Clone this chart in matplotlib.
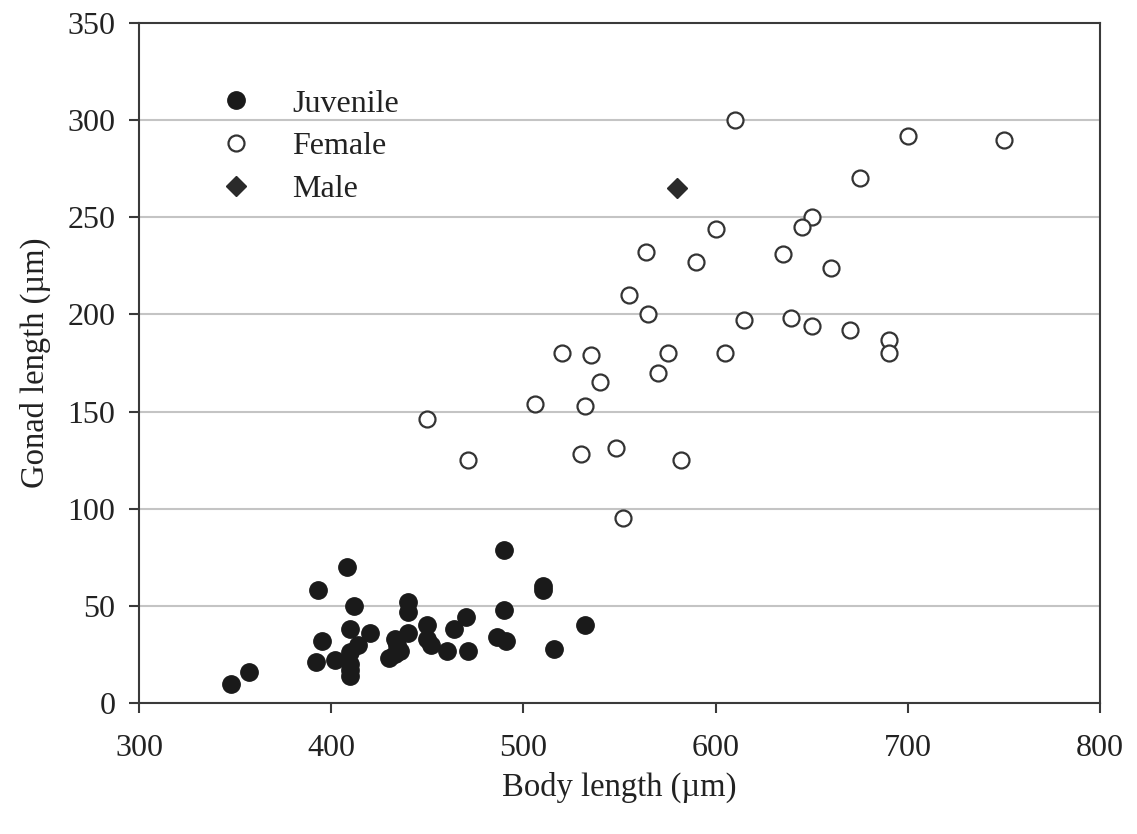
import matplotlib.pyplot as plt
from matplotlib.lines import Line2D

plt.rcParams['font.family'] = ['Liberation Serif', 'DejaVu Serif']

# Juvenile: body length / gonad length (µm)
juv_body = [348, 357, 393, 408, 395, 392, 402, 412, 410, 410, 410, 410, 410, 414,
            420, 440, 440, 433, 440, 430, 433, 436, 434, 450, 450, 452, 460, 464,
            470, 471, 486, 491, 490, 490, 510, 510, 516, 532]
juv_gonad = [10, 16, 58, 70, 32, 21, 22, 50, 38, 14, 17, 20, 26, 30,
             36, 52, 47, 33, 36, 23, 25, 27, 30, 40, 33, 30, 27, 38,
             44, 27, 34, 32, 48, 79, 60, 58, 28, 40]

# Female
fem_body = [610, 600, 564, 590, 635, 555, 565, 615, 639, 520, 535, 575, 605, 570,
            540, 506, 532, 450, 471, 530, 548, 582, 552, 700, 750, 675, 650, 645,
            660, 650, 670, 690, 690]
fem_gonad = [300, 244, 232, 227, 231, 210, 200, 197, 198, 180, 179, 180, 180, 170,
             165, 154, 153, 146, 125, 128, 131, 125, 95, 292, 290, 270, 250, 245,
             224, 194, 192, 187, 180]

# Male
male_body = [580]
male_gonad = [265]

fig = plt.figure(figsize=(11.37, 8.34), dpi=100)
ax = fig.add_axes([0.1223, 0.1571, 0.8452, 0.8153])

ax.plot(juv_body, juv_gonad, 'o', ms=12.5, color='#1a1a1a', mec='#1a1a1a', zorder=3)
ax.plot(fem_body, fem_gonad, 'o', ms=11.5, mfc='white', mec='#333333', mew=1.6, zorder=3)
ax.plot(male_body, male_gonad, 'D', ms=10, color='#2a2a2a', zorder=3)

ax.set_xlim(300, 800)
ax.set_ylim(0, 350)
ax.set_xticks(range(300, 801, 100))
ax.set_yticks(range(0, 351, 50))

ax.set_axisbelow(True)
ax.yaxis.grid(True, color='#c4c4c4', linewidth=1.5)
for gl in ax.yaxis.get_gridlines()[-1:]:
    gl.set_visible(False)

for s in ax.spines.values():
    s.set_color('#3a3a3a')
    s.set_linewidth(1.5)

ax.tick_params(axis='both', direction='out', length=7, width=1.5, color='#3a3a3a',
               labelsize=23, labelcolor='#222222')
ax.tick_params(axis='y', pad=10)
ax.tick_params(axis='x', pad=15)

ax.set_xlabel('Body length (µm)', fontsize=23.5, color='#222222', labelpad=7)
ax.set_ylabel('Gonad length (µm)', fontsize=23.5, color='#222222', labelpad=12)

handles = [
    Line2D([], [], ls='none', marker='o', ms=12.5, color='#1a1a1a', label='Juvenile'),
    Line2D([], [], ls='none', marker='o', ms=11.5, mfc='white', mec='#333333', mew=1.6, label='Female'),
    Line2D([], [], ls='none', marker='D', ms=10, color='#2a2a2a', label='Male'),
]
ax.legend(handles=handles, loc='upper left', bbox_to_anchor=(0.046, 0.945), frameon=False,
          fontsize=23, labelcolor='#222222', handletextpad=1.0, labelspacing=0.42,
          handlelength=1.5)

fig.savefig('out.png', dpi=100, facecolor='white')
